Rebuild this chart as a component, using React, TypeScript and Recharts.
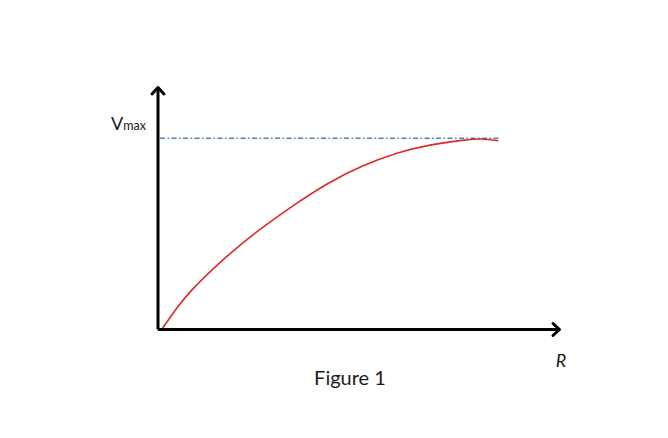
import React from 'react';
import { LineChart, Line, XAxis, YAxis, ReferenceLine, Label } from 'recharts';

// R values (horizontal) and V values (vertical)
const rValues = [0.09, 0.5, 1, 2, 3, 4, 5, 6, 7, 8, 9, 9.5, 10.01];
const vValues = [-0.005, 0.099, 0.207, 0.378, 0.523, 0.65, 0.763, 0.853, 0.92, 0.964, 0.99, 0.996, 0.987];
const vMax = 1;
const vMaxLineStart = 0.06;
const vMaxLineEnd = 10.01;
const rAxisMax = 11.85;
const vAxisMax = 1.273;

const data = rValues.map((r, i) => ({ r, v: vValues[i] }));

const FONT = 'Lato, "Open Sans", "DejaVu Sans", sans-serif';

const ArrowAxis = (props: any) => {
  const { x1, y1, x2, y2 } = props;
  const dx = x2 - x1;
  const dy = y2 - y1;
  const len = Math.hypot(dx, dy) || 1;
  const ux = dx / len;
  const uy = dy / len;
  const head = 8;
  const half = 6;
  const bx = x2 - ux * head;
  const by = y2 - uy * head;
  const px = -uy;
  const py = ux;
  return (
    <g>
      <line x1={x1} y1={y1} x2={x2 - ux * 1.5} y2={y2 - uy * 1.5} stroke="#000" strokeWidth={3} />
      <polyline
        points={`${bx + px * half},${by + py * half} ${x2 - ux * 1.5},${y2 - uy * 1.5} ${bx - px * half},${by - py * half}`}
        fill="none"
        stroke="#000"
        strokeWidth={3}
        strokeLinejoin="round"
        strokeLinecap="round"
      />
    </g>
  );
};

const VmaxLabel = (props: any) => {
  const vb = props.viewBox || {};
  return (
    <text x={vb.x - 49} y={vb.y - 8.5} fill="#1a1a1a" fontFamily={FONT} fontSize={18}>
      <tspan>V</tspan>
      <tspan fontSize={12.5}>max</tspan>
    </text>
  );
};

const RLabel = (props: any) => {
  const vb = props.viewBox || {};
  return (
    <text x={vb.x + vb.width} y={vb.y + 37.5} textAnchor="middle" fill="#1a1a1a" fontFamily={FONT} fontSize={18} fontStyle="italic">
      R
    </text>
  );
};

const CaptionLabel = (props: any) => {
  const vb = props.viewBox || {};
  return (
    <text x={vb.x + 192} y={vb.y + 55} textAnchor="middle" fill="#1a1a1a" fontFamily={FONT} fontSize={20}>
      Figure 1
    </text>
  );
};

export default function App() {
  return (
    <div style={{ position: 'absolute', left: 0, top: 0, width: 668, height: 438, background: '#fff' }}>
      <LineChart width={668} height={438} data={data} margin={{ top: 86, right: 107, bottom: 108.5, left: 158 }}>
        <XAxis type="number" dataKey="r" domain={[0, rAxisMax]} hide allowDataOverflow />
        <YAxis type="number" domain={[0, vAxisMax]} hide allowDataOverflow />
        <ReferenceLine
          segment={[{ x: vMaxLineStart, y: vMax }, { x: vMaxLineEnd, y: vMax }]}
          stroke="#4F81BD"
          strokeWidth={1.5}
          strokeDasharray="5 2.5 1.5 2.5"
          ifOverflow="visible"
          label={<VmaxLabel />}
        />
        <Line
          type="natural"
          dataKey="v"
          stroke="#DD2A2A"
          strokeWidth={1.6}
          dot={false}
          activeDot={false}
          isAnimationActive={false}
        />
        <ReferenceLine
          segment={[{ x: 0, y: 0 }, { x: 0, y: vAxisMax }]}
          ifOverflow="visible"
          shape={<ArrowAxis />}
        />
        <ReferenceLine
          segment={[{ x: 0, y: 0 }, { x: rAxisMax, y: 0 }]}
          ifOverflow="visible"
          shape={<ArrowAxis />}
        >
          <Label content={<RLabel />} />
          <Label content={<CaptionLabel />} />
        </ReferenceLine>
      </LineChart>
    </div>
  );
}
